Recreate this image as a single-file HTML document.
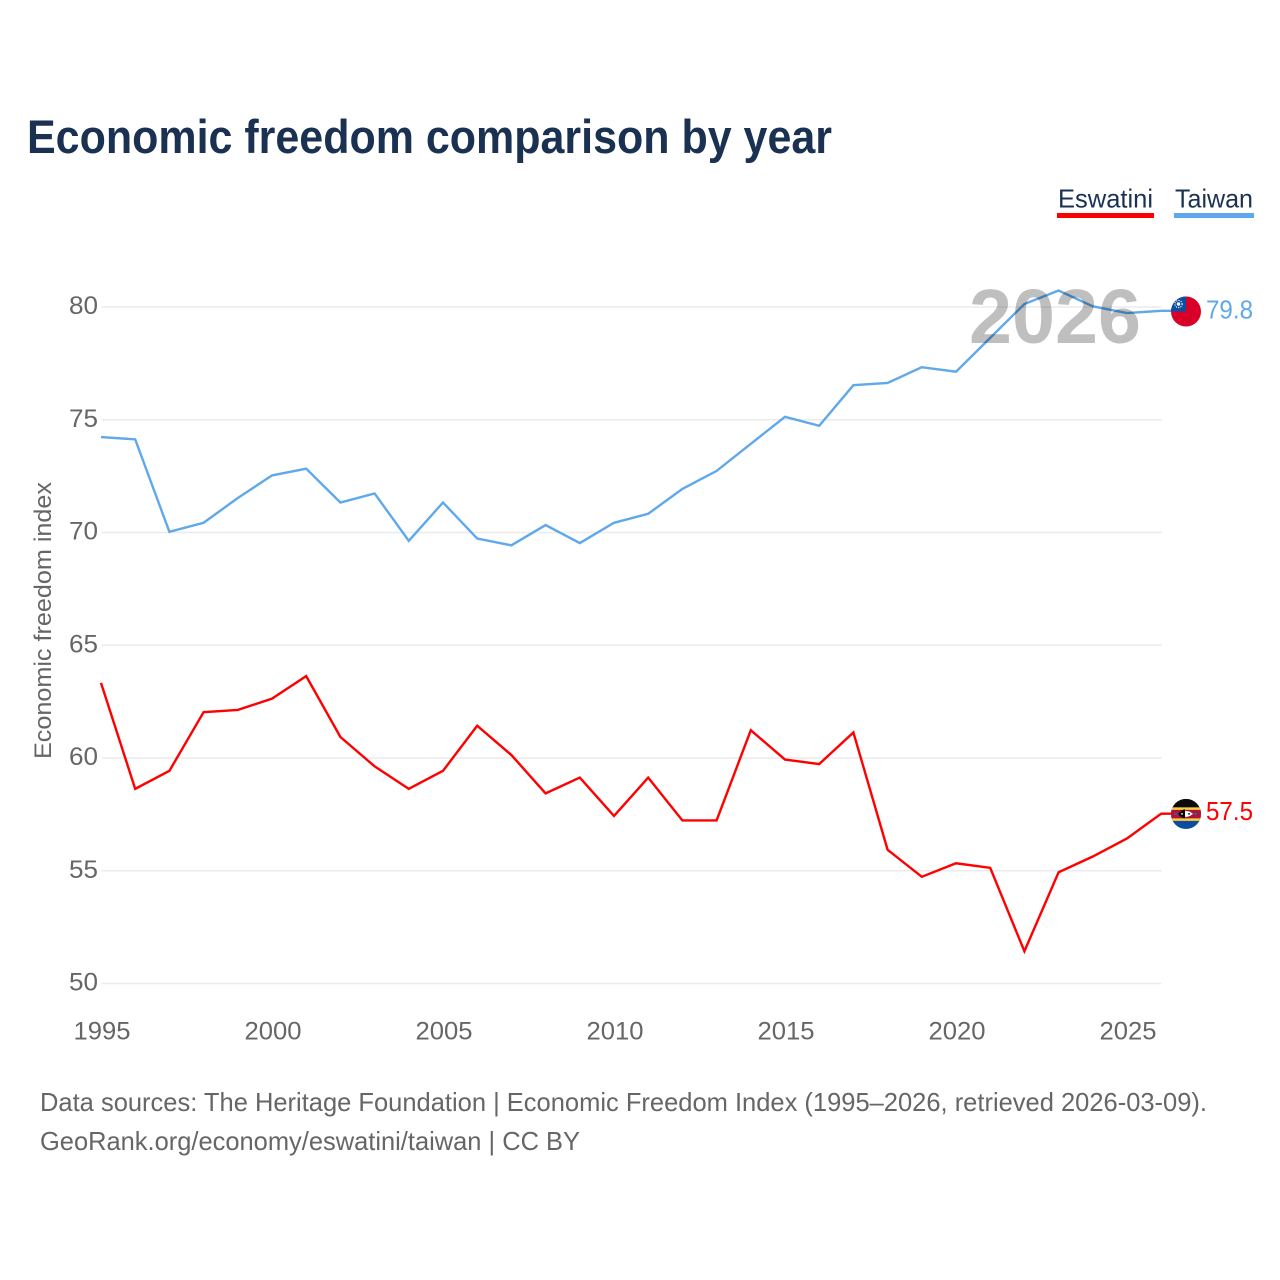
<!DOCTYPE html>
<html lang="en">
<head>
<meta charset="utf-8">
<title>Economic freedom comparison by year</title>
<style>
html,body{margin:0;padding:0;background:#fff;width:1280px;height:1280px;overflow:hidden}
svg{display:block}
text{font-family:"Liberation Sans",sans-serif}
</style>
</head>
<body>
<svg id="chart" xmlns="http://www.w3.org/2000/svg" width="1280" height="1280" viewBox="0 0 1280 1280">
  <defs>
    <clipPath id="flag-clip"><circle cx="0" cy="0" r="15"></circle></clipPath>
  </defs>
  <rect x="0" y="0" width="1280" height="1280" fill="#ffffff"></rect>
  <text x="27" y="153" font-size="47" font-weight="700" fill="#1a3152" textLength="805" lengthAdjust="spacingAndGlyphs">Economic freedom comparison by year</text>

  <g>
    <g>
      <text x="1058" y="207.5" font-size="26" fill="#1a3152" textLength="95" lengthAdjust="spacingAndGlyphs">Eswatini</text>
      <rect x="1057" y="213" width="97" height="5" fill="#ff0000"></rect>
    </g>
    <g>
      <text x="1175" y="207.5" font-size="26" fill="#1a3152" textLength="78" lengthAdjust="spacingAndGlyphs">Taiwan</text>
      <rect x="1174" y="213" width="80" height="5" fill="#5fa8ec"></rect>
    </g>
  </g>

  <g id="grid"></g>
  <g id="y-ticks"></g>
  <g id="x-ticks"></g>
  <text transform="translate(51 759) rotate(-90)" x="0" y="0" font-size="24" fill="#666666" textLength="277" lengthAdjust="spacingAndGlyphs">Economic freedom index</text>

  <g transform="translate(-0.5 -0.7)">
    <path id="line-eswatini" fill="none" stroke="#ff0000" stroke-width="2.4" stroke-linejoin="miter"></path>
    <path id="line-taiwan" fill="none" stroke="#5fa8ec" stroke-width="2.4" stroke-linejoin="miter"></path>
  </g>

  <text id="year-label" x="969" y="343" font-size="77" font-weight="700" fill="#000000" fill-opacity="0.25" textLength="172" lengthAdjust="spacingAndGlyphs">2026</text>

  <g id="flag-taiwan">
    <g clip-path="url(#flag-clip)">
      <rect x="-15" y="-15" width="30" height="30" fill="#d80027"></rect>
      <rect x="-15" y="-15" width="15" height="15" fill="#0b4ea2"></rect>
      <circle cx="-7.5" cy="-7.5" r="3.6" fill="none" stroke="#ffffff" stroke-width="1.1" stroke-dasharray="1.2 1.2"></circle>
      <circle cx="-7.5" cy="-7.5" r="1.7" fill="#ffffff"></circle>
    </g>
  </g>
  <g id="flag-eswatini">
    <g clip-path="url(#flag-clip)">
      <rect x="-15" y="-15" width="30" height="30" fill="#0b0b0b"></rect>
      <rect x="-15" y="-6.5" width="30" height="21.5" fill="#0c4da2"></rect>
      <rect x="-15" y="-6.5" width="30" height="13.5" fill="#f7cf3c"></rect>
      <rect x="-15" y="-4" width="30" height="8.5" fill="#b1123a"></rect>
      <path d="M-8 0 Q0 -6 7 0 Q0 6 -8 0Z" fill="#ffffff"></path>
      <path d="M-8 0 Q-3 -5 -1 -4.5 L-1 4.5 Q-5 4 -8 0Z" fill="#000000"></path>
      <rect x="-12" y="-1" width="3" height="2.2" fill="#2b5ea8"></rect>
      <rect x="8" y="-1" width="3" height="2.2" fill="#2b5ea8"></rect>
      <circle cx="-4" cy="0" r="0.9" fill="#ffffff"></circle>
      <circle cx="3" cy="0" r="0.9" fill="#000000"></circle>
    </g>
  </g>

  <text id="value-taiwan" x="1206" y="318" font-size="26" fill="#5fa8ec" textLength="47" lengthAdjust="spacingAndGlyphs"></text>
  <text id="value-eswatini" x="1206" y="820" font-size="26" fill="#ff0000" textLength="47" lengthAdjust="spacingAndGlyphs"></text>

  <g>
    <text x="40" y="1111" font-size="26" fill="#666666" textLength="1167" lengthAdjust="spacingAndGlyphs">Data sources: The Heritage Foundation | Economic Freedom Index (1995–2026, retrieved 2026-03-09).</text>
    <text x="40" y="1150" font-size="26" fill="#666666" textLength="540" lengthAdjust="spacingAndGlyphs">GeoRank.org/economy/eswatini/taiwan | CC BY</text>
  </g>
</svg>
<script>
const years = [1995,1996,1997,1998,1999,2000,2001,2002,2003,2004,2005,2006,2007,2008,2009,2010,2011,2012,2013,2014,2015,2016,2017,2018,2019,2020,2021,2022,2023,2024,2025,2026];
const taiwanValues = [74.2,74.1,70.0,70.4,71.5,72.5,72.8,71.3,71.7,69.6,71.3,69.7,69.4,70.3,69.5,70.4,70.8,71.9,72.7,73.9,75.1,74.7,76.5,76.6,77.3,77.1,78.6,80.1,80.7,80.0,79.7,79.8];
const eswatiniValues = [63.3,58.6,59.4,62.0,62.1,62.6,63.6,60.9,59.6,58.6,59.4,61.4,60.1,58.4,59.1,57.4,59.1,57.2,57.2,61.2,59.9,59.7,61.1,55.9,54.7,55.3,55.1,51.4,54.9,55.6,56.4,57.5];
const yTickValues = [50,55,60,65,70,75,80];
const xTickValues = [1995,2000,2005,2010,2015,2020,2025];

const SVG_NS = 'http://www.w3.org/2000/svg';
const X0 = 101.5, X_PER_YEAR = 34.2, Y0 = 983.5, Y_PER_UNIT = 22.55;
const FLAG_X = 1186;
function xScale(year) { return X0 + (year - 1995) * X_PER_YEAR; }
function yScale(value) { return Y0 - (value - 50) * Y_PER_UNIT; }
function linePath(values) {
  let d = '';
  values.forEach(function (v, i) {
    d += (i ? 'L' : 'M') + xScale(years[i]).toFixed(2) + ' ' + yScale(v).toFixed(2);
  });
  const last = values[values.length - 1];
  d += 'L' + (FLAG_X - 14) + ' ' + yScale(last).toFixed(2);
  return d;
}

const grid = document.getElementById('grid');
const yTicks = document.getElementById('y-ticks');
const xTicks = document.getElementById('x-ticks');

yTickValues.forEach(function (t) {
  const line = document.createElementNS(SVG_NS, 'line');
  
  
  line.setAttribute('x1', xScale(1995));
  line.setAttribute('x2', xScale(2026));
  line.setAttribute('y1', yScale(t));
  line.setAttribute('y2', yScale(t));
  line.setAttribute('stroke', '#ebebeb');
  line.setAttribute('stroke-width', '1.5');
  grid.appendChild(line);

  const label = document.createElementNS(SVG_NS, 'text');
  
  
  label.setAttribute('x', 69);
  label.setAttribute('y', yScale(t) + 7);
  label.setAttribute('font-size', '25');
  label.setAttribute('fill', '#666666');
  label.setAttribute('textLength', '29');
  label.setAttribute('lengthAdjust', 'spacingAndGlyphs');
  label.textContent = String(t);
  yTicks.appendChild(label);
});

xTickValues.forEach(function (t) {
  const label = document.createElementNS(SVG_NS, 'text');
  
  
  label.setAttribute('x', xScale(t) - 28);
  label.setAttribute('y', 1039.5);
  label.setAttribute('font-size', '25');
  label.setAttribute('fill', '#666666');
  label.setAttribute('textLength', '57');
  label.setAttribute('lengthAdjust', 'spacingAndGlyphs');
  label.textContent = String(t);
  xTicks.appendChild(label);
});

document.getElementById('line-taiwan').setAttribute('d', linePath(taiwanValues));
document.getElementById('line-eswatini').setAttribute('d', linePath(eswatiniValues));

const taiwanLast = taiwanValues[taiwanValues.length - 1];
const eswatiniLast = eswatiniValues[eswatiniValues.length - 1];
document.getElementById('flag-taiwan').setAttribute('transform', 'translate(' + FLAG_X + ' ' + yScale(taiwanLast) + ')');
document.getElementById('flag-eswatini').setAttribute('transform', 'translate(' + FLAG_X + ' ' + (yScale(eswatiniLast) - 0.5) + ')');
const valueTaiwan = document.getElementById('value-taiwan');
valueTaiwan.textContent = taiwanLast.toFixed(1);
valueTaiwan.setAttribute('y', yScale(taiwanLast) + 7);
const valueEswatini = document.getElementById('value-eswatini');
valueEswatini.textContent = eswatiniLast.toFixed(1);
valueEswatini.setAttribute('y', yScale(eswatiniLast) + 5.5);
</script>
</body>
</html>
